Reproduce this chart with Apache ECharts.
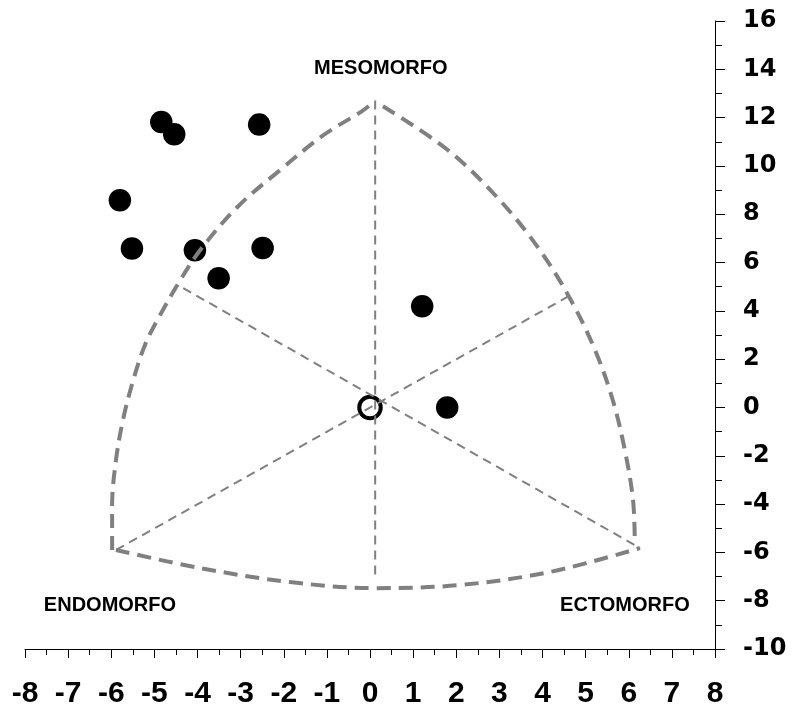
<!DOCTYPE html>
<html><head><meta charset="utf-8">
<script src="https://cdn.jsdelivr.net/npm/echarts@6/dist/echarts.min.js"></script>
<style>html,body{margin:0;padding:0;background:#fff}#c{width:792px;height:713px}</style>
</head><body><div id="c"></div>
<script>
// Somatotype points (x = ecto - endo, y = 2*meso - (endo+ecto))
const subjects = [[-4.84,11.82],[-4.54,11.31],[-2.57,11.71],[-5.80,8.58],[-5.52,6.58],[-4.06,6.51],[-2.49,6.60],[-3.51,5.35],[1.21,4.19],[1.79,0.00]];
const meanPoint = [[0,0]];
// Somatochart outline
const arcEndoMeso = [[-5.98,-5.90],[-5.98,-4.04],[-5.89,-2.18],[-5.73,-0.53],[-5.49,1.13],[-5.22,2.58],[-4.91,3.69],[-4.40,5.27],[-3.94,6.51],[-3.08,8.29],[-2.09,9.82],[-1.09,11.26],[-0.16,12.30],[0.12,12.71]];
const arcMesoEcto = [[0.30,12.47],[1.81,10.65],[3.01,8.58],[3.94,6.51],[4.66,4.44],[5.22,2.37],[5.63,0.30],[5.91,-1.77],[6.10,-3.84],[6.14,-5.62]];
const arcEndoEcto = [[-5.89,-5.90],[-3.94,-6.65],[-1.85,-7.23],[0.12,-7.48],[2.09,-7.35],[4.17,-6.81],[6.26,-5.82]];
const axisMeso = [[0.12,12.71],[0.12,-6.97]];
const axisEndo = [[-5.89,-5.90],[4.73,4.73]];
const axisEcto = [[-4.33,4.94],[6.26,-5.82]];
const vertexNames = ['MESOMORFO','ENDOMORFO','ECTOMORFO'];
const vertexAnchors = [[0.25,14.04],[-6.03,-8.18],[5.91,-8.18]];
const xMin=-8, xMax=8, xStep=1, yMin=-10, yMax=16, yStep=2;

const outlineStyle = {width:4, color:'#808080', type:[14,8], opacity:1};
const inner = {width:2, color:'#808080', type:[9,6], opacity:1};
function lineSeries(d, style, smooth){
  return {type:'line', data:d, symbol:'none', smooth:smooth?0.35:false, z:5,
    lineStyle:Object.assign({}, style), silent:true};
}

const chart = echarts.init(document.getElementById('c'), null, {renderer:'canvas'});
chart.setOption({
  animation:false,
  grid:{left:25, right:77, top:21, bottom:64},
  xAxis:{type:'value', min:xMin, max:xMax, interval:xStep, position:'bottom',
    axisLine:{show:true, onZero:false, lineStyle:{color:'#000', width:1}},
    axisTick:{show:true, length:9, lineStyle:{color:'#000', width:1}},
    minorTick:{show:true, splitNumber:2, length:6, lineStyle:{color:'#000', width:1}},
    splitLine:{show:false},
    axisLabel:{fontFamily:'Liberation Sans', fontWeight:'bold', fontSize:30, color:'#000', margin:30}
  },
  yAxis:{type:'value', min:yMin, max:yMax, interval:yStep, position:'right',
    axisLine:{show:true, onZero:false, lineStyle:{color:'#000', width:1}},
    axisTick:{show:true, length:10, lineStyle:{color:'#000', width:1}},
    minorTick:{show:true, splitNumber:2, length:7, lineStyle:{color:'#000', width:1}},
    splitLine:{show:false},
    axisLabel:{fontFamily:'DejaVu Sans', fontWeight:'bold', fontSize:24, color:'#000', margin:28}
  },
  series:[
    {type:'scatter', data:subjects, symbol:'circle', symbolSize:22.5, z:2,
      itemStyle:{color:'#000', opacity:1}},
    {type:'scatter', data:meanPoint, symbol:'circle', symbolSize:21.5, z:2,
      itemStyle:{color:'#fff', borderColor:'#000', borderWidth:4, opacity:1}},
    lineSeries(arcEndoMeso, outlineStyle, true),
    lineSeries(arcMesoEcto, outlineStyle, true),
    lineSeries(arcEndoEcto, outlineStyle, true),
    lineSeries(axisMeso, inner, false),
    lineSeries(axisEndo, inner, false),
    lineSeries(axisEcto, inner, false),
    {type:'scatter', symbolSize:0, silent:true, z:6,
      itemStyle:{opacity:1},
      data:vertexAnchors.map((p,i)=>({value:p, name:vertexNames[i]})),
      label:{show:true, position:'inside', formatter:'{b}', fontFamily:'Liberation Sans',
        fontWeight:'bold', fontSize:20, color:'#000', opacity:1}}
  ]
});
</script></body></html>
